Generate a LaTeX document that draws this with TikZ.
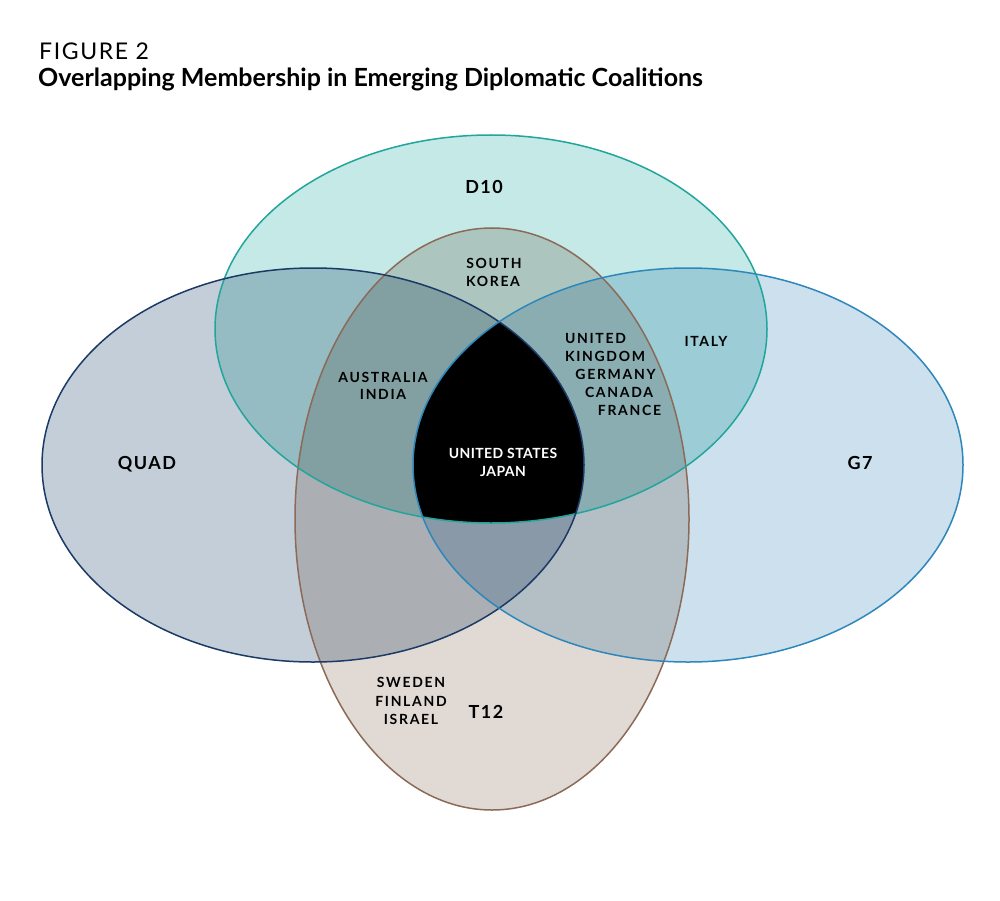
\documentclass[tikz,border=0pt]{standalone}
\usepackage{fontspec}
\setmainfont{Lato}
\newfontfamily\figfont{Lato}[LetterSpace=7]
\newfontfamily\labfont{Lato}[LetterSpace=12]
\newfontfamily\bigfont{Lato}[LetterSpace=8]
\newfontfamily\usfont{Lato}[LetterSpace=3]
\definecolor{quadfill}{RGB}{195,206,217}
\definecolor{quadline}{RGB}{27,58,102}
\definecolor{dfill}{RGB}{196,233,230}
\definecolor{dline}{RGB}{34,165,156}
\definecolor{gfill}{RGB}{204,224,237}
\definecolor{gline}{RGB}{46,135,187}
\definecolor{tfill}{RGB}{224,217,212}
\definecolor{tline}{RGB}{139,107,87}
\tikzset{
  lab/.style={inner sep=0pt, text height=10pt, text depth=0pt, font=\labfont\bfseries\fontsize{14}{17}\selectfont, anchor=center},
  uslab/.style={inner sep=0pt, text height=10pt, text depth=0pt, font=\usfont\bfseries\fontsize{14}{17}\selectfont, anchor=center, text=white},
  biglab/.style={inner sep=0pt, text height=13pt, text depth=0pt, font=\bigfont\bfseries\fontsize{18}{20}\selectfont, anchor=center},
  ring/.style={line width=1.5pt}
}
\def\quadpath{(313,465) ellipse [x radius=271pt, y radius=197pt]}
\def\gpath{(688,465) ellipse [x radius=275pt, y radius=197pt]}
\def\dpath{(491,329) ellipse [x radius=276pt, y radius=194pt]}
\def\tpath{(492,519) ellipse [x radius=197pt, y radius=291pt]}
\begin{document}
\begin{tikzpicture}[x=1pt,y=-1pt]
\useasboundingbox (0,0) rectangle (1000,901);
\fill[white] (0,0) rectangle (1000,901);
% fills, multiplied
\begin{scope}[blend group=multiply]
  \fill[quadfill] \quadpath;
  \fill[gfill] \gpath;
  \fill[dfill] \dpath;
  \fill[tfill] \tpath;
\end{scope}
% core intersection
\begin{scope}
  \clip \quadpath;
  \clip \gpath;
  \clip \dpath;
  \fill[black] \tpath;
\end{scope}
% outlines
\draw[ring, tline] \tpath;
\draw[ring, dline] \dpath;
\draw[ring, quadline] \quadpath;
\draw[ring, gline] \gpath;
% titles
\node[inner sep=0pt, anchor=base west, font=\figfont\fontsize{23}{28}\selectfont] (fig) at (39,60) {FIGURE 2};
\node[inner sep=0pt, anchor=base west, font=\bfseries\fontsize{25}{30}\selectfont] (title) at (38,87) {Overlapping Membership in Emerging Diplomatic Coalitions};
% coalition names
\node[biglab] (quad) at (147,463) {QUAD};
\node[biglab] (g7) at (860,463) {G7};
\node[biglab] (d10) at (484,187) {D10};
\node[biglab] (t12) at (486,712) {T12};
% members
\node[lab] (south) at (494,263) {SOUTH};
\node[lab] (korea) at (493,281) {KOREA};
\node[lab] (aus) at (383,377) {AUSTRALIA};
\node[lab] (ind) at (383,394) {INDIA};
\node[lab] (uni) at (595.5,338) {UNITED};
\node[lab] (kin) at (605,356) {KINGDOM};
\node[lab] (ger) at (615.5,374) {GERMANY};
\node[lab] (can) at (619,392) {CANADA};
\node[lab] (fra) at (629.5,410) {FRANCE};
\node[lab] (ita) at (706,341) {ITALY};
\node[uslab] (us) at (503,453) {UNITED STATES};
\node[uslab] (jp) at (503,471) {JAPAN};
\node[lab] (swe) at (411,682) {SWEDEN};
\node[lab] (fin) at (411,701) {FINLAND};
\node[lab] (isr) at (411,719) {ISRAEL};
\end{tikzpicture}
\end{document}
